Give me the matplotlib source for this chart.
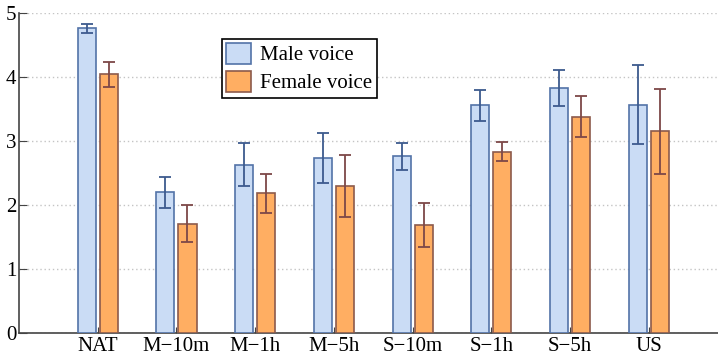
import matplotlib
matplotlib.use("Agg")
import matplotlib.pyplot as plt
import numpy as np

plt.rcParams['font.family'] = ['Liberation Serif', 'DejaVu Serif']

categories = ["NAT", "M\u221210m", "M\u22121h", "M\u22125h", "S\u221210m", "S\u22121h", "S\u22125h", "US"]
male_mean = [4.76, 2.20, 2.63, 2.73, 2.76, 3.56, 3.83, 3.57]
male_err = [0.065, 0.24, 0.34, 0.39, 0.21, 0.24, 0.28, 0.62]
female_mean = [4.04, 1.71, 2.18, 2.30, 1.69, 2.83, 3.38, 3.15]
female_err = [0.19, 0.29, 0.31, 0.48, 0.34, 0.15, 0.32, 0.66]

x = np.arange(1, len(categories) + 1)
w = 0.23
off = 0.14

fig = plt.figure(figsize=(7.18, 3.59), dpi=100)
ax = fig.add_axes([0.0265, 0.0724, 0.9735, 0.8914])

ax.bar(x - off, male_mean, w, color='#cadcf5', edgecolor='#5373a8', linewidth=1.2,
       label='Male voice', zorder=3)
ax.bar(x + off, female_mean, w, color='#ffae62', edgecolor='#8c5a4c', linewidth=1.2,
       label='Female voice', zorder=3)
ax.errorbar(x - off, male_mean, yerr=male_err, fmt='none', ecolor='#3d5a8e',
            elinewidth=1.3, capsize=4, capthick=1.3, zorder=4)
ax.errorbar(x + off, female_mean, yerr=female_err, fmt='none', ecolor='#7d4848',
            elinewidth=1.3, capsize=4, capthick=1.3, zorder=4)

ax.set_xlim(0, 8.88)
ax.set_ylim(0, 5)
ax.set_xticks(x)
ax.set_xticklabels(categories, fontsize=15)
ax.set_yticks([0, 1, 2, 3, 4, 5])
ax.tick_params(axis='y', direction='in', length=6, labelsize=15, pad=2, color='#444444')
ax.tick_params(axis='x', direction='in', length=4, labelsize=15, pad=3, color='#444444')
ax.yaxis.grid(True, linestyle=(0, (1, 2)), color='#c4c4c4', linewidth=1)
ax.set_axisbelow(True)
for s in ['top', 'right']:
    ax.spines[s].set_visible(False)
for s in ['left', 'bottom']:
    ax.spines[s].set_color('#444444')
    ax.spines[s].set_linewidth(1.2)

leg = ax.legend(loc='upper left', bbox_to_anchor=(0.29, 0.92), fontsize=15,
                fancybox=False, framealpha=1, edgecolor='black',
                handlelength=1.2, handleheight=1.2, handletextpad=0.45,
                borderpad=0.2, labelspacing=0.25, borderaxespad=0)
leg.get_frame().set_linewidth(1.2)

fig.savefig('out.png', dpi=100)
